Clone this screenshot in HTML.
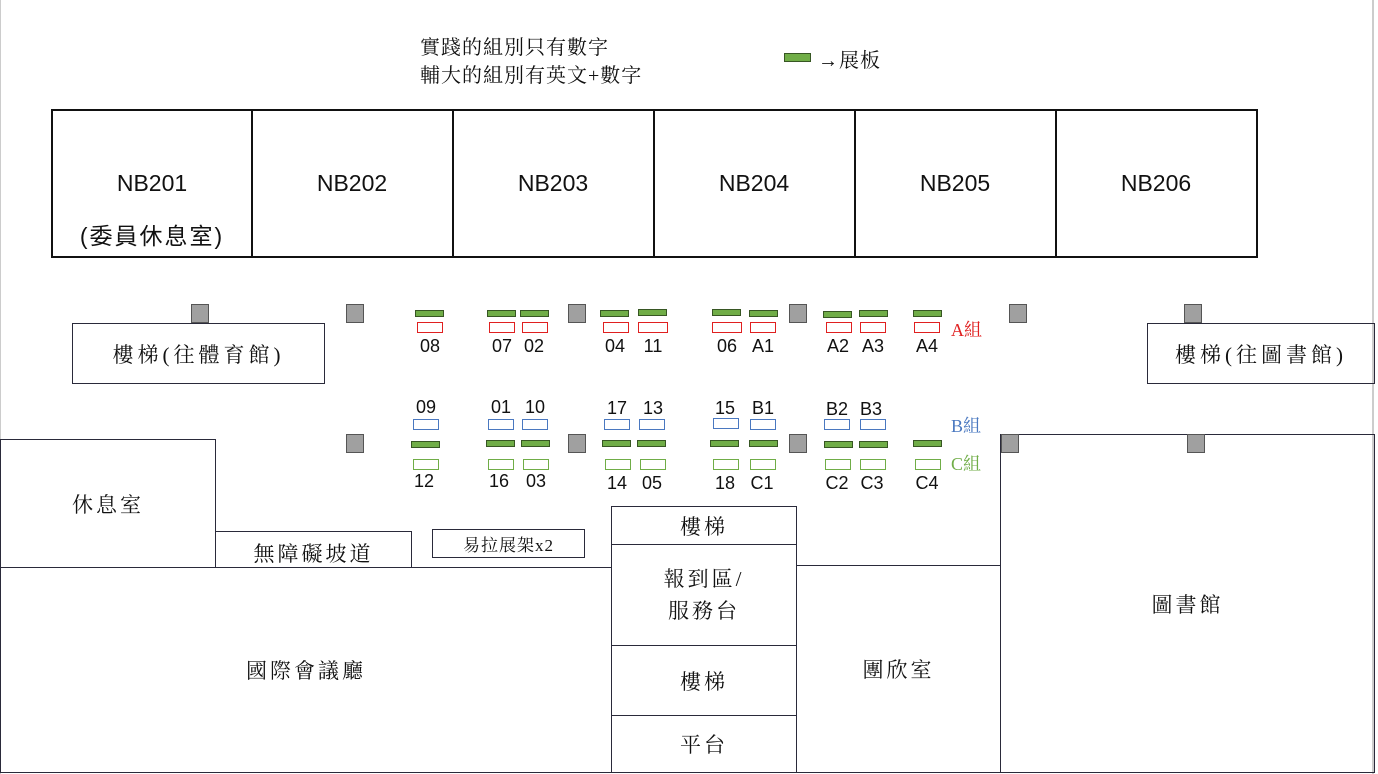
<!DOCTYPE html>
<html><head><meta charset="utf-8"><style>
body{margin:0;width:1378px;height:774px;background:#fff;position:relative;overflow:hidden;font-family:"Liberation Serif","Noto Serif CJK SC","Noto Serif CJK TC",serif;color:#111}
div{position:absolute;box-sizing:border-box}
.b{border:1px solid #2a2a3a}
.c{display:flex;align-items:center;justify-content:center;text-align:center}
.room{top:109px;height:149px;border:2px solid #111;border-left:none;font-family:"Liberation Sans","Noto Sans CJK TC",sans-serif;font-size:23px}
.p{width:18px;height:19px;background:#a0a0a0;border:1px solid #555}
.g{width:29px;height:7px;background:#70ad47;border:1px solid #375623}
.r{width:26px;height:11px;border:1px solid #e02020}
.bl{width:26px;height:11px;border:1px solid #4a78c0}
.gr{width:26px;height:11px;border:1px solid #70ad47}
.n{width:40px;text-align:center;font-family:"Liberation Sans",sans-serif;font-size:18px;line-height:18px}
.cj{font-size:21px;letter-spacing:3px}
</style></head><body>
<div style="left:1372px;top:0;width:2px;height:774px;background:#ccc"></div>
<div style="left:0;top:0;width:1px;height:774px;background:#ccc"></div>
<div style="left:420px;top:34px;font-size:20px;line-height:28px;letter-spacing:1px">實踐的組別只有數字<br>輔大的組別有英文+數字</div>
<div class="g" style="left:784px;top:53px;width:27px;height:9px"></div>
<div style="left:818px;top:44px;font-size:20px;letter-spacing:1px">→展板</div>

<div class="room" style="left:51px;width:202px;border-left:2px solid #111"><div style="left:0;width:198px;top:58px;text-align:center;line-height:28px">NB201</div><div style="left:0;width:198px;top:110px;text-align:center;line-height:30px;letter-spacing:2px">(委員休息室)</div></div>
<div class="room c" style="left:252px;width:202px">NB202</div>
<div class="room c" style="left:453px;width:202px">NB203</div>
<div class="room c" style="left:654px;width:202px">NB204</div>
<div class="room c" style="left:855px;width:202px">NB205</div>
<div class="room c" style="left:1056px;width:202px">NB206</div>

<div class="b c cj" style="left:72px;top:323px;width:253px;height:61px;letter-spacing:4px">樓梯(往體育館)</div>
<div class="b c cj" style="left:1147px;top:323px;width:228px;height:61px;letter-spacing:4px">樓梯(往圖書館)</div>

<div class="p" style="left:191px;top:304px"></div>
<div class="p" style="left:346px;top:304px"></div>
<div class="p" style="left:568px;top:304px"></div>
<div class="p" style="left:789px;top:304px"></div>
<div class="p" style="left:1009px;top:304px"></div>
<div class="p" style="left:1184px;top:304px"></div>

<div class="g" style="left:415px;top:310px"></div><div class="r" style="left:417px;top:322px"></div><div class="n" style="left:410px;top:337px">08</div>
<div class="g" style="left:487px;top:310px"></div><div class="r" style="left:489px;top:322px"></div><div class="n" style="left:482px;top:337px">07</div>
<div class="g" style="left:520px;top:310px"></div><div class="r" style="left:522px;top:322px"></div><div class="n" style="left:514px;top:337px">02</div>
<div class="g" style="left:600px;top:310px"></div><div class="r" style="left:603px;top:322px"></div><div class="n" style="left:595px;top:337px">04</div>
<div class="g" style="left:638px;top:309px"></div><div class="r" style="left:638px;top:322px;width:30px"></div><div class="n" style="left:633px;top:337px">11</div>
<div class="g" style="left:712px;top:309px"></div><div class="r" style="left:712px;top:322px;width:30px"></div><div class="n" style="left:707px;top:337px">06</div>
<div class="g" style="left:749px;top:310px"></div><div class="r" style="left:750px;top:322px"></div><div class="n" style="left:743px;top:337px">A1</div>
<div class="g" style="left:823px;top:311px"></div><div class="r" style="left:826px;top:322px"></div><div class="n" style="left:818px;top:337px">A2</div>
<div class="g" style="left:859px;top:310px"></div><div class="r" style="left:860px;top:322px"></div><div class="n" style="left:853px;top:337px">A3</div>
<div class="g" style="left:913px;top:310px"></div><div class="r" style="left:914px;top:322px"></div><div class="n" style="left:907px;top:337px">A4</div>
<div style="left:951px;top:316px;color:#e02020;font-size:18px">A組</div>

<div class="n" style="left:406px;top:398px">09</div><div class="bl" style="left:413px;top:419px"></div>
<div class="n" style="left:481px;top:398px">01</div><div class="bl" style="left:488px;top:419px"></div>
<div class="n" style="left:515px;top:398px">10</div><div class="bl" style="left:522px;top:419px"></div>
<div class="n" style="left:597px;top:399px">17</div><div class="bl" style="left:604px;top:419px"></div>
<div class="n" style="left:633px;top:399px">13</div><div class="bl" style="left:639px;top:419px"></div>
<div class="n" style="left:705px;top:399px">15</div><div class="bl" style="left:713px;top:418px"></div>
<div class="n" style="left:743px;top:399px">B1</div><div class="bl" style="left:750px;top:419px"></div>
<div class="n" style="left:817px;top:400px">B2</div><div class="bl" style="left:824px;top:419px"></div>
<div class="n" style="left:851px;top:400px">B3</div><div class="bl" style="left:860px;top:419px"></div>
<div style="left:951px;top:412px;color:#4a78c0;font-size:18px">B組</div>

<div class="p" style="left:346px;top:434px"></div>
<div class="p" style="left:568px;top:434px"></div>
<div class="p" style="left:789px;top:434px"></div>

<div class="g" style="left:411px;top:441px"></div><div class="gr" style="left:413px;top:459px"></div><div class="n" style="left:404px;top:472px">12</div>
<div class="g" style="left:486px;top:440px"></div><div class="gr" style="left:488px;top:459px"></div><div class="n" style="left:479px;top:472px">16</div>
<div class="g" style="left:521px;top:440px"></div><div class="gr" style="left:523px;top:459px"></div><div class="n" style="left:516px;top:472px">03</div>
<div class="g" style="left:602px;top:440px"></div><div class="gr" style="left:605px;top:459px"></div><div class="n" style="left:597px;top:474px">14</div>
<div class="g" style="left:637px;top:440px"></div><div class="gr" style="left:640px;top:459px"></div><div class="n" style="left:632px;top:474px">05</div>
<div class="g" style="left:710px;top:440px"></div><div class="gr" style="left:713px;top:459px"></div><div class="n" style="left:705px;top:474px">18</div>
<div class="g" style="left:749px;top:440px"></div><div class="gr" style="left:750px;top:459px"></div><div class="n" style="left:742px;top:474px">C1</div>
<div class="g" style="left:824px;top:441px"></div><div class="gr" style="left:825px;top:459px"></div><div class="n" style="left:817px;top:474px">C2</div>
<div class="g" style="left:859px;top:441px"></div><div class="gr" style="left:860px;top:459px"></div><div class="n" style="left:852px;top:474px">C3</div>
<div class="g" style="left:913px;top:440px"></div><div class="gr" style="left:915px;top:459px"></div><div class="n" style="left:907px;top:474px">C4</div>
<div style="left:951px;top:450px;color:#70ad47;font-size:18px">C組</div>

<div class="b c cj" style="left:0;top:439px;width:216px;height:129px">休息室</div>
<div class="b c cj" style="left:215px;top:531px;width:197px;height:37px;padding-top:6px">無障礙坡道</div>
<div class="b c" style="left:432px;top:529px;width:153px;height:29px;font-size:17px;letter-spacing:1px">易拉展架x2</div>
<div class="b c cj" style="left:0;top:567px;width:612px;height:206px">國際會議廳</div>
<div class="b c cj" style="left:611px;top:506px;width:186px;height:39px">樓梯</div>
<div class="b c cj" style="left:611px;top:544px;width:186px;height:102px;line-height:32px">報到區/<br>服務台</div>
<div class="b c cj" style="left:611px;top:645px;width:186px;height:71px">樓梯</div>
<div class="b c cj" style="left:611px;top:715px;width:186px;height:58px">平台</div>
<div class="b c cj" style="left:796px;top:565px;width:205px;height:208px">團欣室</div>
<div class="b c cj" style="left:1000px;top:434px;width:375px;height:339px">圖書館</div>
<div class="p" style="left:1001px;top:434px"></div>
<div class="p" style="left:1187px;top:434px"></div>
</body></html>
